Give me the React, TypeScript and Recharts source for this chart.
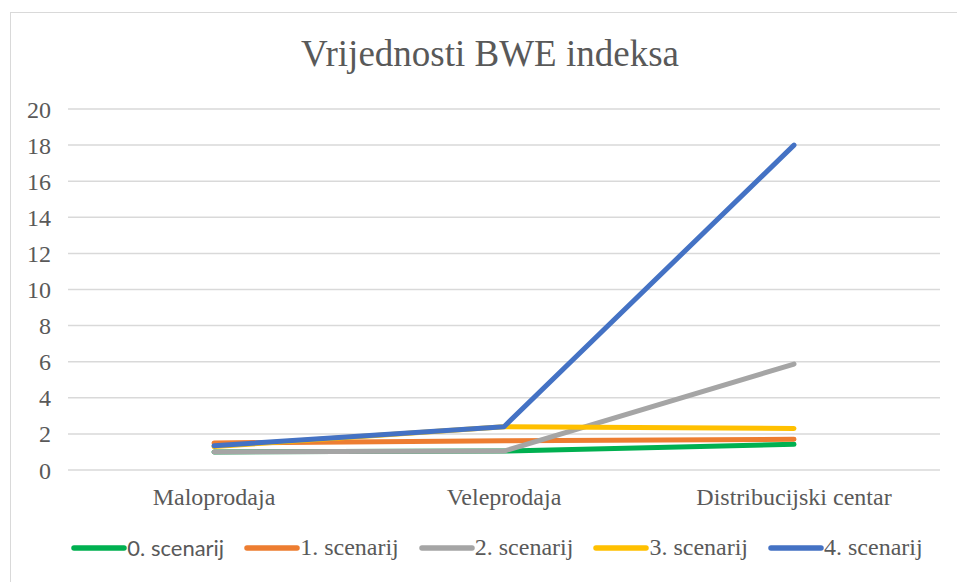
import React from 'react';
import { LineChart, Line, XAxis, YAxis, CartesianGrid } from 'recharts';

const categories = ['Maloprodaja', 'Veleprodaja', 'Distribucijski centar'];
const scenarij0 = [1.0, 1.05, 1.42];
const scenarij1 = [1.5, 1.62, 1.7];
const scenarij2 = [1.0, 1.05, 5.87];
const scenarij3 = [1.3, 2.4, 2.3];
const scenarij4 = [1.35, 2.4, 18.0];
const yTicks = [0, 2, 4, 6, 8, 10, 12, 14, 16, 18, 20];

const seriesNames = ['0. scenarij', '1. scenarij', '2. scenarij', '3. scenarij', '4. scenarij'];
const seriesColors = ['#00B050', '#ED7D31', '#A5A5A5', '#FFC000', '#4472C4'];
const seriesValues = [scenarij0, scenarij1, scenarij2, scenarij3, scenarij4];

const data = categories.map((c, i) => {
  const row: any = { name: c };
  seriesNames.forEach((s, k) => {
    row[s] = seriesValues[k][i];
  });
  return row;
});

const FONT = '"Liberation Serif", "Times New Roman", serif';
const SANS = 'Lato, "Noto Sans", sans-serif';
const TEXT = '#595959';

const LegendContent = () => (
  <div style={{ display: 'flex', justifyContent: 'center', alignItems: 'center', fontFamily: FONT, fontSize: 24, color: TEXT }}>
    {seriesNames.map((s, k) => (
      <div key={s} style={{ display: 'flex', alignItems: 'center', marginRight: k < 4 ? 20 : 0 }}>
        <svg width={56} height={10}>
          <line x1={3} y1={5} x2={53} y2={5} stroke={seriesColors[k]} strokeWidth={5.5} strokeLinecap="round" />
        </svg>
        <span style={k === 0 ? { fontFamily: SANS, fontSize: 22 } : undefined}>{s}</span>
      </div>
    ))}
  </div>
);

export default function App() {
  return (
    <div style={{ position: 'absolute', left: 0, top: 0, width: 957, height: 582, background: '#fff', overflow: 'hidden' }}>
      <div style={{ position: 'absolute', left: 10, top: 12, width: 960, height: 600, border: '1px solid #d9d9d9' }} />
      <div style={{ position: 'absolute', left: 0, top: 32, width: 980, textAlign: 'center', fontFamily: FONT, fontSize: 37, color: TEXT, whiteSpace: 'nowrap' }}>
        Vrijednosti BWE indeksa
      </div>
      <div style={{ position: 'absolute', left: 0, top: 0 }}>
        <LineChart width={957} height={582} data={data} margin={{ top: 109, right: 17, bottom: 82, left: 20 }}>
          <CartesianGrid vertical={false} stroke="#d9d9d9" strokeWidth={1.5} />
          <XAxis
            dataKey="name"
            axisLine={false}
            tickLine={false}
            padding={{ left: 146, right: 146 }}
            tick={{ fontFamily: FONT, fontSize: 24, fill: TEXT }}
            tickMargin={12}
            height={30}
            interval={0}
          />
          <YAxis
            domain={[0, 20]}
            ticks={yTicks}
            axisLine={false}
            tickLine={false}
            width={48}
            tickMargin={11}
            tick={{ fontFamily: FONT, fontSize: 24, fill: TEXT }}
            interval={0}
          />
          {seriesNames.map((s, k) => (
            <Line
              key={s}
              dataKey={s}
              stroke={seriesColors[k]}
              strokeWidth={5}
              strokeLinecap="round"
              strokeLinejoin="round"
              dot={false}
              activeDot={false}
              type="linear"
              isAnimationActive={false}
            />
          ))}
        </LineChart>
      </div>
      <div style={{ position: 'absolute', left: 2, top: 534, width: 990 }}>
        <LegendContent />
      </div>
    </div>
  );
}
